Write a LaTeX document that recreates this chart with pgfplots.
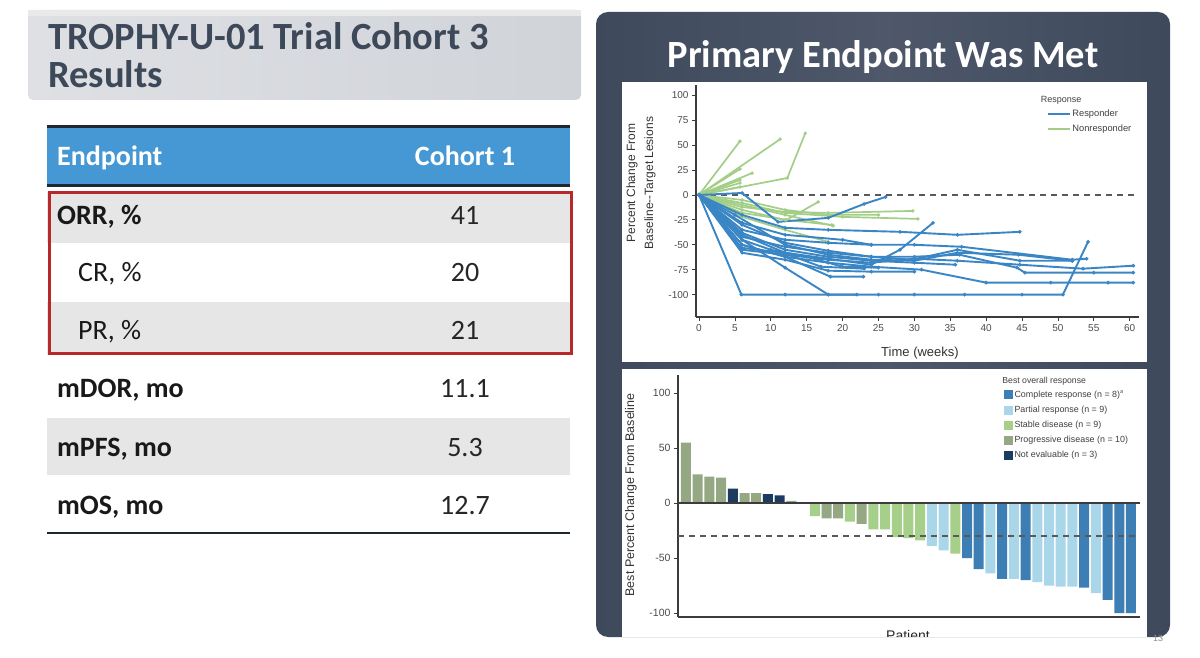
\documentclass[border=0pt]{standalone}
\usepackage{fontspec}
\setmainfont{Carlito}
\newfontfamily\plotfont{Liberation Sans}
\usepackage{pgfplots}
\pgfplotsset{compat=1.18}
\definecolor{titlecol}{RGB}{61,72,89}
\definecolor{tbL}{RGB}{222,224,228}
\definecolor{tbR}{RGB}{208,211,216}
\definecolor{tbTop}{RGB}{232,233,235}
\definecolor{headblue}{RGB}{69,152,212}
\definecolor{rowgray}{RGB}{230,230,230}
\definecolor{redbox}{RGB}{184,40,40}
\definecolor{darkline}{RGB}{30,40,50}
\definecolor{panelA}{RGB}{62,73,92}
\definecolor{panelB}{RGB}{78,88,106}
\definecolor{resp}{RGB}{58,134,197}
\definecolor{nonresp}{RGB}{163,206,136}
\definecolor{crc}{RGB}{61,127,180}
\definecolor{prc}{RGB}{170,214,234}
\definecolor{sdc}{RGB}{166,207,138}
\definecolor{pdc}{RGB}{148,168,131}
\definecolor{nec}{RGB}{27,60,95}
\definecolor{axcol}{RGB}{60,60,60}
\begin{document}
\begin{tikzpicture}
\path[use as bounding box, fill=white] (0pt,0pt) rectangle (1200pt,657pt);
\begin{scope}[x=1pt,y=1pt]
% ---------- left title box
\shade[left color=tbL, right color=tbR, rounded corners=5pt] (28,557) rectangle (581,647);
\fill[tbTop] (28,641) rectangle (581,647);
\node[anchor=base west, text=titlecol, inner sep=0pt] at (48,607) {\fontsize{38.5}{38}\selectfont\bfseries TROPHY-U-01 Trial Cohort 3};
\node[anchor=base west, text=titlecol, inner sep=0pt] at (48,569) {\fontsize{38.5}{38}\selectfont\bfseries Results};
% ---------- table
\fill[headblue] (47,471) rectangle (570,529);
\draw[darkline, line width=3pt] (47,530) -- (570,530);
\draw[darkline, line width=3pt] (47,471) -- (570,471);
\fill[rowgray] (47,414) rectangle (570,465);
\fill[rowgray] (47,302) rectangle (570,355);
\fill[rowgray] (47,182) rectangle (570,239);
\draw[redbox, line width=3pt] (49,303) rectangle (571,464);
\draw[darkline, line width=2.5pt] (47,124) -- (570,124);
\begin{scope}[every node/.style={inner sep=0pt}]
\node[anchor=base west, white] at (57,491) {\fontsize{28}{28}\selectfont\bfseries Endpoint};
\node[anchor=base, white] at (465,491) {\fontsize{28}{28}\selectfont\bfseries Cohort 1};
\node[anchor=base west, black!90] at (57,432) {\fontsize{28}{28}\selectfont\bfseries ORR, \%};
\node[anchor=base west, black!90] at (78,375) {\fontsize{28}{28}\selectfont CR, \%};
\node[anchor=base west, black!90] at (78,317) {\fontsize{28}{28}\selectfont PR, \%};
\node[anchor=base west, black!90] at (57,259) {\fontsize{28}{28}\selectfont\bfseries mDOR, mo};
\node[anchor=base west, black!90] at (57,201) {\fontsize{28}{28}\selectfont\bfseries mPFS, mo};
\node[anchor=base west, black!90] at (57,143) {\fontsize{28}{28}\selectfont\bfseries mOS, mo};
\node[anchor=base, black!85] at (465,432) {\fontsize{28}{28}\selectfont 41};
\node[anchor=base, black!85] at (465,375) {\fontsize{28}{28}\selectfont 20};
\node[anchor=base, black!85] at (465,317) {\fontsize{28}{28}\selectfont 21};
\node[anchor=base, black!85] at (465,259) {\fontsize{28}{28}\selectfont 11.1};
\node[anchor=base, black!85] at (465,201) {\fontsize{28}{28}\selectfont 5.3};
\node[anchor=base, black!85] at (465,143) {\fontsize{28}{28}\selectfont 12.7};
\end{scope}
% ---------- right dark panel
\shade[left color=panelA, right color=panelA, middle color=panelB, rounded corners=12pt] (596,20) rectangle (1170,645);
\node[anchor=base, white, inner sep=0pt] at (883,589) {\fontsize{38.5}{38}\selectfont\bfseries Primary Endpoint Was Met};
\fill[white] (622,295) rectangle (1147,575);
\fill[white] (622,20) rectangle (1147,288);
\node[text=black!45, inner sep=0pt, anchor=base] at (1158,16) {\plotfont\fontsize{9}{9}\selectfont 13};
\node[rotate=90, align=center, text=black!80, inner sep=0pt, font=\plotfont\fontsize{12}{18}\selectfont] at (641,474) {Percent Change From\\Baseline--Target Lesions};
\node[anchor=base, text=black!80, inner sep=0pt] at (920,300) {\plotfont\fontsize{13}{13}\selectfont Time (weeks)};
\node[rotate=90, text=black!80, inner sep=0pt] at (631,162) {\plotfont\fontsize{12.5}{12.5}\selectfont Best Percent Change From Baseline};
\begin{scope}
\clip (622,21) rectangle (1147,288);
\node[anchor=base, text=black!85, inner sep=0pt] at (908,17) {\plotfont\fontsize{14}{14}\selectfont Patient};
\end{scope}
\end{scope}
% ---------- spider plot
\begin{axis}[
  at={(696pt,340pt)}, anchor=south west, scale only axis, width=443pt, height=232pt,
  xmin=-0.42, xmax=61.3, ymin=-122.5, ymax=110.4,
  axis x line*=bottom, axis y line*=left,
  axis line style={axcol, line width=1.2pt},
  xtick={0,5,10,15,20,25,30,35,40,45,50,55,60},
  xticklabels={0,5,10,15,20,25,30,35,40,45,50,55,60},
  ytick={-100,-75,-50,-25,0,25,50,75,100},
  yticklabels={-100,-75,-50,-25,0,25,50,75,100},
  tick style={axcol, line width=0.8pt}, major tick length=4pt, tick align=outside,
  tick label style={font=\plotfont\fontsize{10}{10}\selectfont, text=black!70},
  clip=false,
  legend style={at={(axis cs:48.4,87.5)}, anchor=north west, draw=none, fill=none, inner sep=0pt,
    font=\plotfont\fontsize{9.3}{9.3}\selectfont, row sep=3pt, text=black!75},
  legend cell align=left,
  legend image code/.code={\draw[#1, line width=1.8pt] (0pt,0pt) -- (22pt,0pt);},
  every axis plot/.append style={mark=*, mark size=0.7pt, mark options={draw=none, fill=black!55}},
]
\addlegendimage{resp}
\addlegendentry{Responder}
\addlegendimage{nonresp}
\addlegendentry{Nonresponder}
\addplot[black!65, line width=1.2pt, dash pattern=on 6pt off 5pt, mark=none] coordinates {(0,0) (61.3,0)};
% nonresponders
\pgfplotsset{nr/.style={nonresp, line width=1.7pt}}
\addplot[nr] coordinates {(0,0) (5.7,54)};
\addplot[nr] coordinates {(0,0) (11.3,56)};
\addplot[nr] coordinates {(0,0) (12.3,17) (14.8,62)};
\addplot[nr] coordinates {(0,0) (5.7,26)};
\addplot[nr] coordinates {(0,0) (7.4,22)};
\addplot[nr] coordinates {(0,0) (5.7,15)};
\addplot[nr] coordinates {(0,0) (5.7,8)};
\addplot[nr] coordinates {(0,0) (5.7,12)};
\addplot[nr] coordinates {(0,0) (5.9,-12) (12,-17) (18,-18) (29.8,-16)};
\addplot[nr] coordinates {(0,0) (6,-8) (12,-18) (20,-22) (30.5,-24)};
\addplot[nr] coordinates {(0,0) (6,-15) (12,-25) (18.5,-30)};
\addplot[nr] coordinates {(0,0) (6,-18) (12.2,-25) (16.6,-7)};
\addplot[nr] coordinates {(0,0) (6,-22) (12,-35) (18,-47)};
\addplot[nr] coordinates {(0,0) (6,-10) (12,-20) (18.7,-31)};
\addplot[nr] coordinates {(0,0) (6,-5) (12,-15) (18,-20) (25,-20)};
% responders
\pgfplotsset{rs/.style={resp, line width=1.9pt}}
\addplot[rs] coordinates {(0,0) (5.9,-100) (12,-100) (18,-100) (25,-100) (30,-100) (37,-100) (45,-100) (50.7,-100) (54.2,-47)};
\addplot[rs] coordinates {(0,0) (6,-45) (12,-73) (18,-100) (22,-100)};
\addplot[rs] coordinates {(0,0) (6,2) (11,-27) (18,-23) (23,-9) (26,-2)};
\addplot[rs] coordinates {(0,0) (6,-40) (12,-58) (18,-64) (24,-70) (28,-55) (32.6,-28)};
\addplot[rs] coordinates {(0,0) (6,-20) (12,-33) (18,-35) (28,-37) (36,-40) (44.7,-37)};
\addplot[rs] coordinates {(0,0) (6,-35) (12,-45) (18,-48) (24,-50) (30,-50) (36.6,-52) (52,-65) (54,-64)};
\addplot[rs] coordinates {(0,0) (6,-42) (12,-52) (18,-58) (24,-62) (30,-62) (36.3,-60) (44.3,-73) (45.4,-78) (55,-78) (60.5,-78)};
\addplot[rs] coordinates {(0,0) (6,-55) (12,-60) (18,-65) (24,-68) (30,-64) (36,-66) (44.7,-70) (53.5,-74) (60.5,-71)};
\addplot[rs] coordinates {(0,0) (6,-50) (12,-62) (18,-68) (24,-72) (31,-75) (40,-88) (49,-88) (57,-88) (60.5,-88)};
\addplot[rs] coordinates {(0,0) (6,-38) (12,-55) (18,-62) (24,-66) (30,-68) (35.7,-70)};
\addplot[rs] coordinates {(0,0) (6,-30) (12,-48) (18,-56) (24,-62) (29.7,-65) (36,-55) (44.7,-66) (52,-66)};
\addplot[rs] coordinates {(0,0) (6,-50) (12,-62) (18.3,-82) (22.9,-82)};
\addplot[rs] coordinates {(0,0) (5.9,-53) (11.7,-58) (17,-72) (23,-74)};
\addplot[rs] coordinates {(0,0) (6,-28) (12,-40) (20,-45) (24,-50)};
\addplot[rs] coordinates {(0,0) (6,-45) (10,-55) (15,-62) (20,-72) (25,-73)};
\addplot[rs] coordinates {(0,0) (6,-58) (12,-65) (18,-76) (24,-77) (30,-77)};
\addplot[rs] coordinates {(0,0) (5,-20) (12,-50) (18,-60) (24,-65) (30,-66) (36,-58) (44.5,-60) (52,-66)};
\node[anchor=base west, inner sep=0pt, text=black!75] at (axis cs:47.6,92.5) {\plotfont\fontsize{9}{9}\selectfont Response};
\end{axis}
% ---------- waterfall plot
\begin{axis}[
  at={(678pt,40pt)}, anchor=south west, scale only axis, width=462pt, height=242pt,
  xmin=0.32, xmax=39.77, ymin=-103.6, ymax=116.4,
  axis x line*=bottom, axis y line*=left,
  axis line style={axcol, line width=1.2pt},
  xtick=\empty,
  ytick={-100,-50,0,50,100},
  yticklabels={-100,-50,0,50,100},
  tick style={axcol, line width=0.8pt}, major tick length=4pt, tick align=outside,
  tick label style={font=\plotfont\fontsize{10.5}{10.5}\selectfont, text=black!70},
  clip=false,
  legend style={at={(axis cs:28.1,104.3)}, anchor=north west, draw=none, fill=none, inner sep=0pt,
    font=\plotfont\fontsize{8.9}{8.9}\selectfont, row sep=3.2pt, text=black!75},
  legend cell align=left,
  legend image code/.code={\fill[#1] (0pt,-4.5pt) rectangle (9pt,4.5pt);},
]
\addplot[ybar, bar width=10pt, bar shift=0pt, fill=crc, draw=none] coordinates {(25,-50) (26,-60) (28,-69) (30,-70) (35,-77) (37,-88) (38,-100) (39,-100)};
\addlegendentry{Complete response (n = 8)$^{\mathrm{a}}$}
\addplot[ybar, bar width=10pt, bar shift=0pt, fill=prc, draw=none] coordinates {(22,-39) (23,-43) (27,-64) (29,-69) (31,-72) (32,-75) (33,-76) (34,-76) (36,-82)};
\addlegendentry{Partial response (n = 9)}
\addplot[ybar, bar width=10pt, bar shift=0pt, fill=sdc, draw=none] coordinates {(11,0) (12,-12) (15,-17) (17,-24) (18,-24) (19,-31) (20,-32) (21,-34) (24,-46)};
\addlegendentry{Stable disease (n = 9)}
\addplot[ybar, bar width=10pt, bar shift=0pt, fill=pdc, draw=none] coordinates {(1,55) (2,26) (3,24) (4,23) (6,9) (7,9) (10,2) (13,-14) (14,-14) (16,-19)};
\addlegendentry{Progressive disease (n = 10)}
\addplot[ybar, bar width=10pt, bar shift=0pt, fill=nec, draw=none] coordinates {(5,13) (8,8) (9,7)};
\addlegendentry{Not evaluable (n = 3)}
\addplot[axcol, line width=1.2pt, mark=none, forget plot] coordinates {(0.32,0) (39.77,0)};
\addplot[black!65, line width=1.2pt, dash pattern=on 6pt off 5pt, mark=none, forget plot] coordinates {(0.32,-30) (39.77,-30)};
\node[anchor=base west, inner sep=0pt, text=black!75] at (axis cs:28.0,108.5) {\plotfont\fontsize{8.7}{8.7}\selectfont Best overall response};
\end{axis}
\end{tikzpicture}
\end{document}
